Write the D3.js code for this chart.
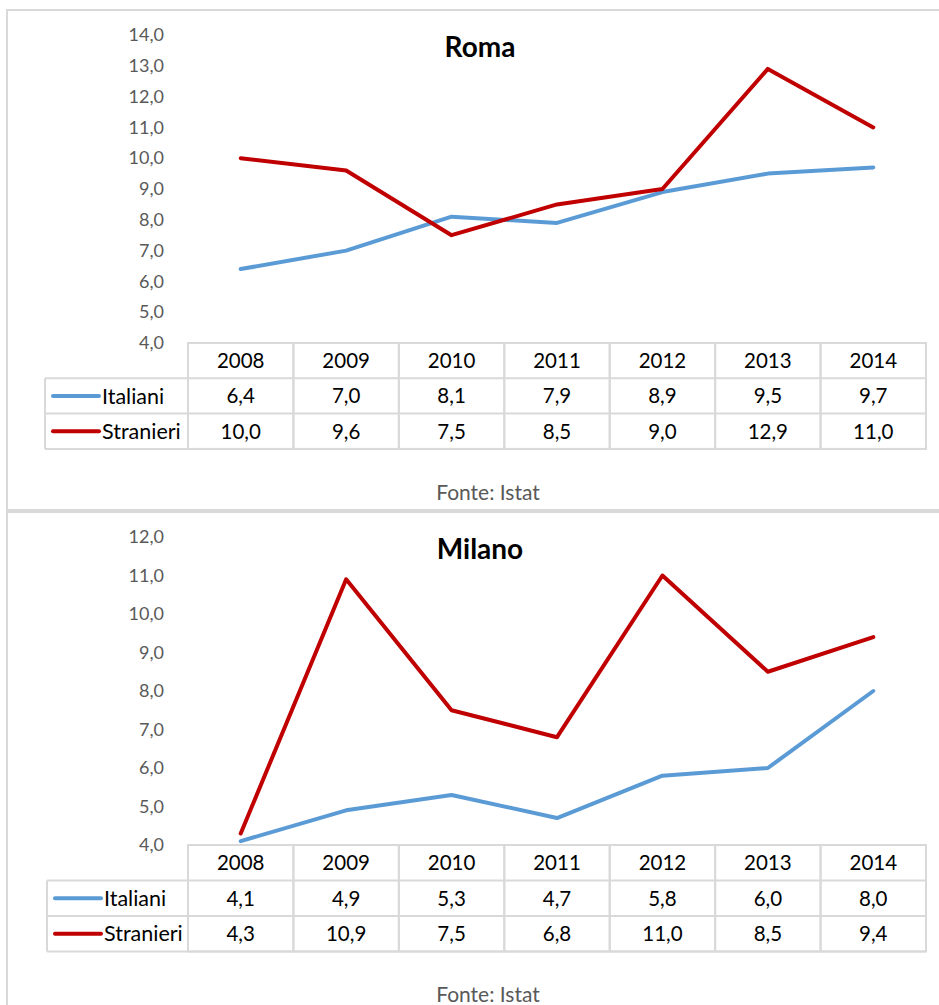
<!DOCTYPE html>
<html><head><meta charset="utf-8">
<script src="https://cdn.jsdelivr.net/npm/d3@7"></script>
<style>
body{margin:0;background:#fff;}
svg{display:block;font-family:Lato,"Open Sans",sans-serif;}
</style></head>
<body>
<svg id="c" width="939" height="1005"></svg>
<script>
const years = ["2008","2009","2010","2011","2012","2013","2014"];
const seriesNames = ["Italiani","Stranieri"];
const romaItaliani = [6.4,7.0,8.1,7.9,8.9,9.5,9.7];
const romaStranieri = [10.0,9.6,7.5,8.5,9.0,12.9,11.0];
const milanoItaliani = [4.1,4.9,5.3,4.7,5.8,6.0,8.0];
const milanoStranieri = [4.3,10.9,7.5,6.8,11.0,8.5,9.4];
const romaTicks = [4,5,6,7,8,9,10,11,12,13,14];
const milanoTicks = [4,5,6,7,8,9,10,11,12];
const colors = ["#5B9BD5","#C00000"];
const source = "Fonte: Istat";

const loc = d3.formatLocale({decimal:",",thousands:".",grouping:[3],currency:["€",""]});
const fmt = loc.format(".1f");

const svg = d3.select("#c");

function drawChart(cfg){
  const g = svg.append("g");
  g.append("rect").attr("x",cfg.box[0]).attr("y",cfg.box[1]).attr("width",cfg.box[2]).attr("height",cfg.box[3])
    .attr("fill","#fff").attr("stroke","#d9d9d9").attr("stroke-width",2);
  const x0 = 188, x1 = 926;
  const x = d3.scaleBand().domain(years).range([x0,x1]).padding(0);
  const y = d3.scaleLinear().domain([cfg.ticks[0], cfg.ticks[cfg.ticks.length-1]]).range([cfg.yBottom, cfg.yTop]);
  const ax = d3.axisLeft(y).tickValues(cfg.ticks).tickFormat(fmt).tickSize(0).tickPadding(0);
  const axg = g.append("g").attr("transform","translate(164,0)").call(ax);
  axg.select(".domain").remove();
  axg.selectAll("text").attr("fill","#595959").attr("font-size",18).attr("font-family","Lato,'Open Sans',sans-serif");
  g.append("text").attr("x",480).attr("y",cfg.titleY).attr("text-anchor","middle")
    .attr("font-size",28).attr("font-weight","bold").attr("fill","#000").text(cfg.title);
  const line = d3.line().x((d,i)=>x(years[i])+x.bandwidth()/2).y(d=>y(d));
  cfg.series.forEach((s,k)=>{
    g.append("path").datum(s).attr("d",line).attr("fill","none").attr("stroke",colors[k])
      .attr("stroke-width",4).attr("stroke-linejoin","round").attr("stroke-linecap","round");
  });
  const rh = cfg.rowH;
  const t0 = cfg.yBottom;
  const lx = cfg.legendX;
  const stroke = "#d9d9d9";
  const tg = g.append("g");
  years.forEach(yr=>{
    tg.append("rect").attr("x",x(yr)).attr("y",t0).attr("width",x.bandwidth()).attr("height",rh*3)
      .attr("fill","none").attr("stroke",stroke).attr("stroke-width",2);
    tg.append("text").attr("x",x(yr)+x.bandwidth()/2).attr("y",t0+rh/2).attr("dy","0.36em")
      .attr("text-anchor","middle").attr("font-size",20.5).attr("fill","#000").text(yr);
  });
  [1,2,3].forEach(r=>{
    tg.append("line").attr("x1",lx).attr("x2",x1).attr("y1",t0+rh*r).attr("y2",t0+rh*r)
      .attr("stroke",stroke).attr("stroke-width",2);
  });
  tg.append("line").attr("x1",lx).attr("x2",lx).attr("y1",t0+rh).attr("y2",t0+rh*3).attr("stroke",stroke).attr("stroke-width",2);
  cfg.series.forEach((s,k)=>{
    const cy = t0+rh*(k+1)+rh/2;
    tg.append("line").attr("x1",lx+8).attr("x2",lx+54).attr("y1",cy).attr("y2",cy)
      .attr("stroke",colors[k]).attr("stroke-width",4).attr("stroke-linecap","round");
    tg.append("text").attr("x",lx+57).attr("y",cy).attr("dy","0.36em").attr("font-size",21.5).attr("fill","#000").text(seriesNames[k]);
    s.forEach((v,i)=>{
      tg.append("text").attr("x",x(years[i])+x.bandwidth()/2).attr("y",cy).attr("dy","0.36em")
        .attr("text-anchor","middle").attr("font-size",20.5).attr("fill","#000").text(fmt(v));
    });
  });
  g.append("text").attr("x",488).attr("y",cfg.sourceY).attr("text-anchor","middle")
    .attr("font-size",21).attr("fill","#595959").text(source);
}

drawChart({title:"Roma", box:[7,10,950,500], ticks:romaTicks, yTop:35, yBottom:343, rowH:35.3,
  legendX:45, titleY:57, sourceY:500, series:[romaItaliani, romaStranieri]});
drawChart({title:"Milano", box:[7,512,950,520], ticks:milanoTicks, yTop:537, yBottom:845, rowH:35.5,
  legendX:47, titleY:559, sourceY:1002, series:[milanoItaliani, milanoStranieri]});
</script>
</body></html>
